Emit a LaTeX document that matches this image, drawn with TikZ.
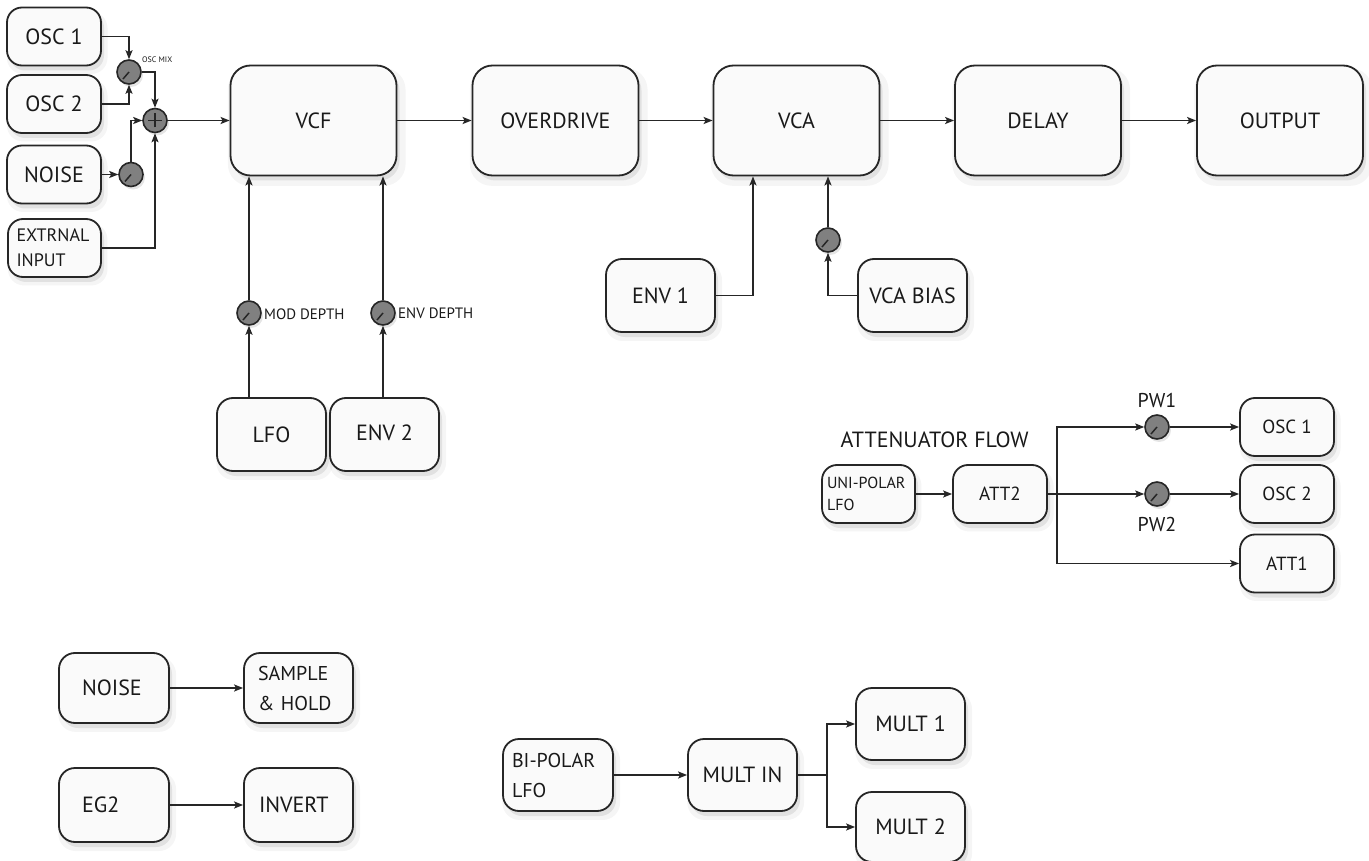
\documentclass[tikz,border=0pt]{standalone}
\usepackage{fontspec}
\setmainfont{PT Sans}
\usetikzlibrary{arrows.meta,shadows,calc}
\newcommand{\fs}[1]{\fontsize{#1}{#1}\selectfont}
\begin{document}
\begin{tikzpicture}[x=1pt,y=-1pt,
  box/.style={draw=black!85, line width=1.8pt, rounded corners=16pt, fill=black!2, inner sep=0pt, text=black!90,
    font=\fontsize{22}{26}\selectfont, minimum width=109pt, minimum height=72pt,
    general shadow={fill=black,opacity=0.08,shadow xshift=3pt,shadow yshift=-5pt},
    general shadow={fill=black,opacity=0.04,shadow xshift=3pt,shadow yshift=-6pt,shadow scale=1.07}},
  big/.style={box, minimum width=166pt, minimum height=110pt, rounded corners=20pt},
  small/.style={box, minimum width=94pt, minimum height=58pt, rounded corners=15pt},
  knob/.style={circle, draw=black!85, line width=1.6pt, fill=black!50, minimum size=24pt, inner sep=0pt,
    path picture={\draw[line width=1.5pt, black!85] (path picture bounding box.center) -- ++(-6pt,-7pt);},
    general shadow={fill=black,opacity=0.1,shadow xshift=2pt,shadow yshift=-3pt}},
  sumnode/.style={circle, draw=black!85, line width=1.6pt, fill=black!50, minimum size=24pt, inner sep=0pt,
    path picture={\draw[line width=1.1pt, black!85]
      ($(path picture bounding box.center)+(-7pt,0pt)$) -- ++(14pt,0pt)
      ($(path picture bounding box.center)+(0pt,-7pt)$) -- ++(0pt,14pt);},
    general shadow={fill=black,opacity=0.1,shadow xshift=2pt,shadow yshift=-3pt}},
  lbl/.style={inner sep=0pt, text=black!90},
  conn/.style={line width=1.6pt, draw=black!85, -{Stealth[length=9pt,width=7pt,inset=2pt]}},
  plain/.style={line width=1.6pt, draw=black!85}
]
\useasboundingbox (0,0) rectangle (1369,861);
\fill[white] (0,0) rectangle (1369,861);

% ---- main signal chain ----
\node[big] (vcf) at (313.5,120.5) {VCF};
\node[big] (od) at (555.5,120.5) {OVERDRIVE};
\node[big] (vca) at (796.5,120.5) {VCA};
\node[big] (dly) at (1038,120.5) {DELAY};
\node[big] (out) at (1280,120.5) {OUTPUT};
\draw[conn] (vcf.east) -- (od.west);
\draw[conn] (od.east) -- (vca.west);
\draw[conn] (vca.east) -- (dly.west);
\draw[conn] (dly.east) -- (out.west);

% ---- sources ----
\node[small] (osc1) at (54,36.5) {OSC 1};
\node[small] (osc2) at (54,104) {OSC 2};
\node[small] (noisea) at (54,174.5) {NOISE};
\node[small, minimum width=93pt, align=left, text width=76pt, font=\fontsize{18}{25}\selectfont] (ext) at (54.5,248) {EXTRNAL\\INPUT};
\node[knob] (kmix) at (129,72) {};
\node[sumnode] (sum) at (155,120.5) {};
\node[knob] (knz) at (131,174.5) {};
\node[lbl, anchor=west, font=\fs{8}] (lmix) at (142,60) {OSC MIX};
\draw[conn] (osc1.east) -| (kmix.north);
\draw[conn] (osc2.east) -| (kmix.south);
\draw[conn] (kmix.east) -| (sum.north);
\draw[conn] (noisea.east) -- (knz.west);
\draw[conn] (knz.north) |- (sum.west);
\draw[conn] (ext.east) -| (sum.south);
\draw[conn] (sum.east) -- (vcf.west);

% ---- VCF modulation ----
\node[knob] (kmod) at (249,313) {};
\node[knob] (kenv) at (383,313) {};
\node[lbl, anchor=west, font=\fs{15}] (lmod) at (264,314) {MOD DEPTH};
\node[lbl, anchor=west, font=\fs{15}] (lenv) at (398,313) {ENV DEPTH};
\node[box, minimum height=73pt] (lfo) at (271.5,434.5) {LFO};
\node[box, minimum height=73pt] (env2) at (384.5,434.5) {\raisebox{4pt}{ENV 2}};
\draw[conn] (kmod |- lfo.north) -- (kmod.south);
\draw[conn] (kmod.north) -- (kmod |- vcf.south);
\draw[conn] (kenv |- env2.north) -- (kenv.south);
\draw[conn] (kenv.north) -- (kenv |- vcf.south);

% ---- VCA modulation ----
\node[box, minimum height=73pt] (env1) at (660.5,295.5) {ENV 1};
\node[box, minimum height=73pt] (bias) at (912.5,295.5) {VCA BIAS};
\node[knob] (kbias) at (828,240) {};
\draw[conn] (env1.east) -| ([xshift=-43.5pt]vca.south);
\draw[conn] (bias.west) -| (kbias.south);
\draw[conn] (kbias.north) -- (kbias |- vca.south);

% ---- attenuator flow ----
\node[lbl, font=\fs{22}] (atitle) at (934.5,440) {ATTENUATOR FLOW};
\node[small, minimum width=93pt, align=left, text width=83pt, font=\fontsize{16}{22}\selectfont] (uni) at (868.5,494) {UNI-POLAR\\LFO};
\node[small, font=\fs{19}] (att2) at (1000,494) {ATT2};
\node[knob] (kpw1) at (1157,427) {};
\node[knob] (kpw2) at (1157,494) {};
\node[lbl, font=\fs{20}] (lpw1) at (1157,400) {PW1};
\node[lbl, font=\fs{20}] (lpw2) at (1157,524) {PW2};
\node[small, font=\fs{19}] (o1b) at (1287,427) {OSC 1};
\node[small, font=\fs{19}] (o2b) at (1287,494) {OSC 2};
\node[small, font=\fs{19}] (att1) at (1287,563.5) {ATT1};
\coordinate (abr) at (1057,494);
\draw[conn] (uni.east) -- (att2.west);
\draw[conn] (att2.east) -- (kpw2.west);
\draw[conn] (abr) |- (kpw1.west);
\draw[conn] (abr) |- (att1.west);
\draw[conn] (kpw1.east) -- (o1b.west);
\draw[conn] (kpw2.east) -- (o2b.west);

% ---- bottom left ----
\node[box, minimum width=110pt, minimum height=70pt, align=left, text width=64pt] (noiseb) at (114,688) {NOISE};
\node[box, minimum height=70pt, align=left, text width=81pt, font=\fontsize{20}{30}\selectfont] (sh) at (298.5,688) {SAMPLE\\\& HOLD};
\node[box, minimum width=110pt, minimum height=74pt, align=left, text width=64pt] (eg2) at (114,805) {EG2};
\node[box, minimum height=74pt, align=left, text width=79pt] (inv) at (298.5,805) {INVERT};
\draw[conn] (noiseb.east) -- (sh.west);
\draw[conn] (eg2.east) -- (inv.west);

% ---- mult ----
\node[box, minimum width=110pt, align=left, text width=92pt, font=\fontsize{20}{30}\selectfont] (bip) at (558,775) {BI-POLAR\\LFO};
\node[box] (mulin) at (742.5,775) {MULT IN};
\node[box] (m1) at (910.5,724) {MULT 1};
\node[box, minimum height=70pt] (m2) at (910.5,827) {MULT 2};
\coordinate (mbr) at (827,775);
\draw[conn] (bip.east) -- (mulin.west);
\draw[plain] (mulin.east) -- (mbr);
\draw[conn] (mbr) |- (m1.west);
\draw[conn] (mbr) |- (m2.west);
\end{tikzpicture}
\end{document}
